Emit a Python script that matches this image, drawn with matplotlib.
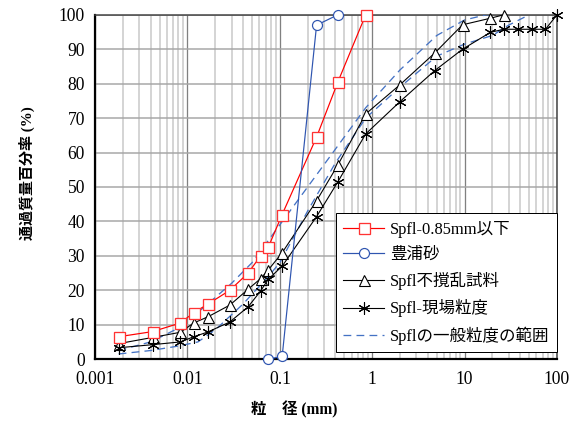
import matplotlib
matplotlib.use("Agg")
import matplotlib.pyplot as plt
from matplotlib.ticker import LogLocator, FixedLocator, FixedFormatter

plt.rcParams['font.family'] = ['Liberation Serif', 'Noto Sans CJK JP']

# Spfl-0.85mm以下
red_x = [0.0018, 0.0042, 0.0084, 0.0117, 0.0167, 0.0288, 0.0454, 0.062, 0.075, 0.106, 0.25, 0.425, 0.85]
red_y = [6.5, 8, 10.5, 13.5, 16, 20, 25, 30, 32.5, 42, 64.5, 80.5, 100]

# 豊浦砂
toyo_x = [0.075, 0.106, 0.25, 0.425]
toyo_y = [0, 0.8, 97, 100]

# Spfl不撹乱試料
tri_x = [0.0018, 0.0042, 0.0084, 0.0117, 0.0167, 0.0288, 0.0454, 0.062, 0.075, 0.106,
         0.25, 0.425, 0.85, 2, 4.75, 9.5, 19, 26.5]
tri_y = [4.5, 6.3, 7.8, 10.5, 12.3, 15.7, 20.3, 23.4, 25.9, 30.9,
         46, 56.4, 71.2, 79.7, 88.9, 97.1, 99, 100]

# Spfl-現場粒度
ast_x = [0.0018, 0.0042, 0.0084, 0.0117, 0.0167, 0.0288, 0.0454, 0.062, 0.075, 0.106,
         0.25, 0.425, 0.85, 2, 4.75, 9.5, 19, 26.5, 37.5, 53, 75, 100]
ast_y = [3.3, 4.2, 5, 6.5, 7.9, 10.8, 15.2, 19.8, 23.2, 27,
         41.4, 51.5, 65.4, 74.8, 83.8, 90, 94.9, 95.8, 95.8, 95.8, 95.8, 100]

# Spflの一般粒度の範囲 (上限・下限)
up_x = [0.0018, 0.004, 0.008, 0.015, 0.03, 0.05, 0.1, 0.2, 0.4, 0.85, 2, 5, 10, 17, 20]
up_y = [2.5, 5, 9, 15, 22, 28, 39, 50, 61, 73, 84, 94, 98.5, 100, 100]
lo_x = [0.0018, 0.004, 0.008, 0.013, 0.02, 0.04, 0.075, 0.1, 0.2, 0.4, 0.85, 2, 5, 10, 20, 30, 50]
lo_y = [1.5, 2.5, 3.8, 5, 8.5, 16, 24, 28, 43, 57, 70, 79, 88, 91.5, 94, 97, 100]

xticks = [0.001, 0.01, 0.1, 1, 10, 100]
xticklabels = ['0.001', '0.01', '0.1', '1', '10', '100']

fig = plt.figure(figsize=(8, 5.875), dpi=72)
ax = fig.add_axes([0.165, 0.151, 0.802, 0.814])

ax.set_xscale('log')
ax.set_xlim(0.001, 100)
ax.set_ylim(0, 100)

blue = '#4472C4'
ax.plot(up_x, up_y, '--', color=blue, lw=1.3, dashes=(6, 4), zorder=3)
ax.plot(lo_x, lo_y, '--', color=blue, lw=1.3, dashes=(6, 4), zorder=3,
        label='Spflの一般粒度の範囲')
ax.plot(red_x, red_y, '-s', color='#FF0000', lw=1.2, ms=11, mfc='white', mec='#FF3333',
        mew=1.3, zorder=5, label='Spfl-0.85mm以下', clip_on=False)
ax.plot(toyo_x, toyo_y, '-o', color='#2F55B0', lw=1.2, ms=10, mfc='white', mew=1.2,
        zorder=6, label='豊浦砂', clip_on=False)
ax.plot(tri_x, tri_y, '-^', color='black', lw=1.1, ms=11, mfc='white', mew=1.1,
        zorder=4, label='Spfl不撹乱試料', clip_on=False)
ax.plot(ast_x, ast_y, '-', color='black', lw=1.1, marker=(6, 2, 0), ms=12, mew=1.1,
        zorder=4, label='Spfl-現場粒度', clip_on=False)

# grid
ax.xaxis.set_major_locator(FixedLocator(xticks))
ax.xaxis.set_major_formatter(FixedFormatter(xticklabels))
ax.xaxis.set_minor_locator(LogLocator(base=10, subs=range(2, 10), numticks=20))
ax.set_yticks(range(0, 101, 10))
ax.grid(True, which='major', axis='x', color='#808080', lw=1.3)
ax.grid(True, which='minor', axis='x', color='#C8C8C8', lw=1.5)
ax.grid(True, which='major', axis='y', color='#A6A6A6', lw=1.5)
ax.set_axisbelow(True)

ax.tick_params(which='both', length=0, labelsize=17.5)
ax.tick_params(axis='x', pad=12)
ax.tick_params(axis='y', pad=10)

for s in ['left', 'bottom']:
    ax.spines[s].set_linewidth(2.2)
    ax.spines[s].set_color('black')
for s in ['top', 'right']:
    ax.spines[s].set_linewidth(1.5)
    ax.spines[s].set_color('#404040')

ax.set_xlabel('粒　径 (mm)', fontsize=15.5, fontweight='bold')
ax.set_ylabel('通過質量百分率 (%)', fontsize=15, fontweight='bold')
ax.xaxis.set_label_coords(0.432, -0.122)
ax.yaxis.set_label_coords(-0.13, 0.54)

handles, labels = ax.get_legend_handles_labels()
order = [1, 2, 3, 4, 0]
leg = ax.legend([handles[i] for i in order], [labels[i] for i in order],
                loc='lower right', bbox_to_anchor=(1.0, 0.02), borderaxespad=0,
                fontsize=16.5, frameon=True, fancybox=False, framealpha=1,
                edgecolor='black', handlelength=2.5, handletextpad=0.35,
                borderpad=0.45, labelspacing=0.55)
leg.get_frame().set_linewidth(1.0)
leg.set_zorder(10)

fig.savefig('out.png', dpi=72)
